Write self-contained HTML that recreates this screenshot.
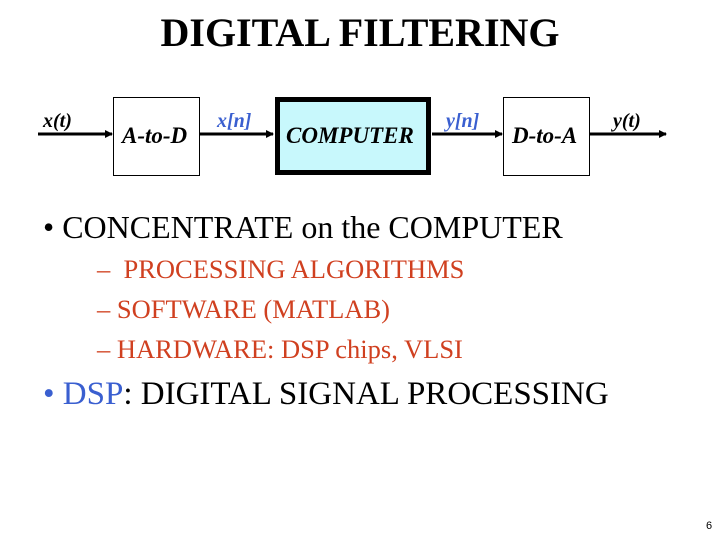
<!DOCTYPE html>
<html><head><meta charset="utf-8"><style>
body{margin:0;width:720px;height:540px;background:#fff;position:relative;overflow:hidden;font-family:"Liberation Serif",serif;}
.a{position:absolute;white-space:nowrap;line-height:1;}
.i{font-style:italic;font-weight:bold;}
.r{color:#d04020;}
.b{color:#3a5fd0;}
</style></head><body>
<div class="a" style="left:0;width:720px;text-align:center;top:13px;font-size:40px;font-weight:bold;">DIGITAL FILTERING</div>
<svg class="a" style="left:0;top:0" width="720" height="200">
<defs><marker id="ar" markerWidth="8" markerHeight="8" refX="7" refY="4" orient="auto" markerUnits="userSpaceOnUse"><path d="M0,0L8,4L0,8z"/></marker></defs>
<g stroke="#000" stroke-width="3" marker-end="url(#ar)">
<line x1="38" y1="134" x2="112" y2="134"/>
<line x1="199" y1="134" x2="273" y2="134"/>
<line x1="432" y1="134" x2="502" y2="134"/>
<line x1="589" y1="134" x2="666" y2="134"/>
</g>
<rect x="113.5" y="97.5" width="86" height="78" fill="#fff" stroke="#000" stroke-width="1"/>
<rect x="503.5" y="97.5" width="86" height="78" fill="#fff" stroke="#000" stroke-width="1"/>
<rect x="277.5" y="99.5" width="151" height="73" fill="#c8f8fc" stroke="#000" stroke-width="5"/>
</svg>
<div class="a i" style="left:43px;top:111px;font-size:20px;">x(t)</div>
<div class="a i" style="left:122px;top:124px;font-size:23px;">A-to-D</div>
<div class="a i b" style="left:217px;top:111px;font-size:20px;">x[n]</div>
<div class="a i" style="left:286px;top:124px;font-size:23px;">COMPUTER</div>
<div class="a i b" style="left:446px;top:111px;font-size:20px;">y[n]</div>
<div class="a i" style="left:512px;top:124px;font-size:23px;">D-to-A</div>
<div class="a i" style="left:613px;top:111px;font-size:20px;">y(t)</div>
<div class="a" style="left:43px;top:211px;font-size:32px;">•&nbsp;CONCENTRATE on the COMPUTER</div>
<div class="a r" style="left:97px;top:256px;font-size:26.5px;">–&nbsp; PROCESSING ALGORITHMS</div>
<div class="a r" style="left:97px;top:296px;font-size:26.5px;">– SOFTWARE (MATLAB)</div>
<div class="a r" style="left:97px;top:336px;font-size:26.5px;">– HARDWARE: DSP chips, VLSI</div>
<div class="a" style="left:43px;top:378px;font-size:33px;"><span class="b">• DSP</span>: DIGITAL SIGNAL PROCESSING</div>
<div class="a" style="left:706px;top:521px;font-size:11px;font-family:'Liberation Sans',sans-serif;">6</div>
</body></html>
